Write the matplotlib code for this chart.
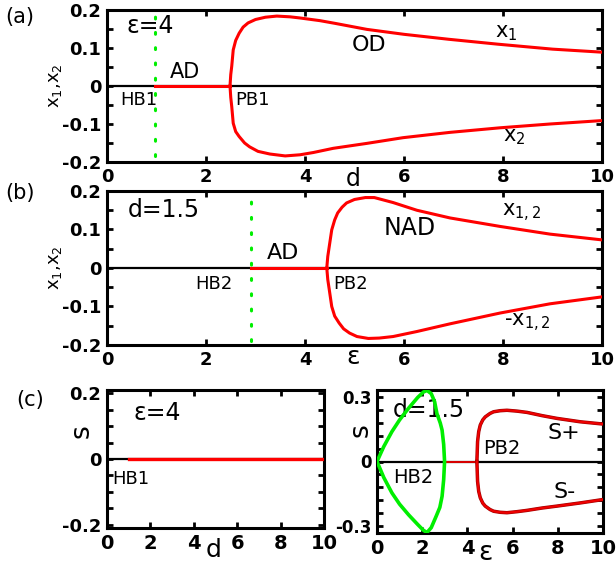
import matplotlib
matplotlib.use("Agg")
import matplotlib.pyplot as plt
from matplotlib.ticker import MultipleLocator, FixedLocator
import numpy as np

# ---------------- data ----------------
x_ticks = [0, 2, 4, 6, 8, 10]
x_ticklabels = ['0', '2', '4', '6', '8', '10']

# (a) eps = 4, bifurcation vs d
a_hb = 0.97
a_pb = 2.485
a_up_d = [2.485, 2.50, 2.52, 2.55, 2.60, 2.67, 2.75, 2.85, 3.00, 3.20, 3.43, 3.70, 3.90, 4.30, 4.60, 5.25, 6.00, 6.90, 7.90, 9.00, 10.0]
a_up_x = [0.0, 0.030, 0.052, 0.095, 0.120, 0.139, 0.155, 0.166, 0.175, 0.181, 0.184, 0.182, 0.179, 0.172, 0.165, 0.149, 0.136, 0.123, 0.110, 0.097, 0.089]
a_lo_d = [2.485, 2.50, 2.52, 2.55, 2.60, 2.67, 2.78, 2.88, 3.05, 3.29, 3.60, 3.90, 4.17, 4.57, 5.25, 5.98, 6.93, 7.94, 8.95, 10.0]
a_lo_x = [0.0, -0.030, -0.054, -0.098, -0.120, -0.133, -0.150, -0.160, -0.172, -0.179, -0.184, -0.181, -0.175, -0.164, -0.151, -0.136, -0.122, -0.110, -0.100, -0.091]
a_yticks = [-0.2, -0.1, 0, 0.1, 0.2]
a_yticklabels = ['-0.2', '-0.1', '0', '0.1', '0.2']

# (b) d = 1.5, bifurcation vs eps
b_hb = 2.9
b_pb = 4.44
b_up_e = [4.44, 4.46, 4.49, 4.54, 4.60, 4.66, 4.75, 4.84, 5.00, 5.22, 5.40, 5.78, 6.26, 6.93, 7.94, 8.95, 10.0]
b_up_x = [0.0, 0.030, 0.056, 0.099, 0.125, 0.143, 0.158, 0.169, 0.178, 0.183, 0.183, 0.170, 0.150, 0.130, 0.108, 0.088, 0.073]
b_lo_e = [4.44, 4.46, 4.49, 4.54, 4.60, 4.69, 4.78, 4.90, 5.05, 5.28, 5.50, 5.78, 6.26, 6.93, 7.94, 8.95, 10.0]
b_lo_x = [0.0, -0.030, -0.056, -0.100, -0.125, -0.143, -0.158, -0.169, -0.178, -0.183, -0.182, -0.178, -0.165, -0.145, -0.117, -0.093, -0.075]

# (c left) eps = 4, s vs d
c1_hb = 1.0
c1_yticks = [-0.2, 0, 0.2]
c1_yticklabels = ['-0.2', '0', '0.2']

# (c right) d = 1.5, s vs eps
hopf_loop_e = [0.0, 0.30, 0.66, 1.00, 1.40, 1.80, 2.05, 2.21, 2.40, 2.55, 2.65, 2.80, 2.88, 2.95, 2.99,
               2.95, 2.88, 2.78, 2.62, 2.40, 2.21, 2.05, 1.80, 1.40, 1.00, 0.66, 0.30, 0.0]
hopf_loop_s = [0.0, 0.070, 0.140, 0.195, 0.250, 0.300, 0.325, 0.333, 0.318, 0.280, 0.225, 0.180, 0.147, 0.080, 0.0,
               -0.085, -0.163, -0.215, -0.256, -0.310, -0.333, -0.322, -0.295, -0.250, -0.200, -0.147, -0.075, 0.0]
c2_hb = 2.99
c2_pb = 4.42
c2_up_e = [4.42, 4.45, 4.50, 4.57, 4.68, 4.79, 5.00, 5.16, 5.45, 5.75, 6.20, 6.64, 7.30, 7.96, 9.00, 9.95]
c2_up_s = [0.0, 0.093, 0.140, 0.171, 0.195, 0.209, 0.225, 0.233, 0.238, 0.240, 0.236, 0.230, 0.215, 0.202, 0.186, 0.176]
c2_lo_e = [4.42, 4.45, 4.50, 4.57, 4.68, 4.79, 5.00, 5.16, 5.45, 5.75, 6.20, 6.64, 7.30, 7.96, 9.00, 9.95]
c2_lo_s = [0.0, -0.093, -0.140, -0.170, -0.195, -0.209, -0.225, -0.233, -0.238, -0.240, -0.235, -0.229, -0.218, -0.209, -0.194, -0.179]
c2_yticks = [-0.3, 0, 0.3]
c2_yticklabels = ['-0.3', '0', '0.3']

# ---------------- style ----------------
plt.rcParams['font.family'] = ['DejaVu Sans']
W, H = 616, 565
fig = plt.figure(figsize=(W / 100, H / 100), dpi=100)

def rect(l, t, r, b):
    return [l / W, 1 - b / H, (r - l) / W, (b - t) / H]

RED = '#ff0000'
GREEN = '#00ee00'

def style(ax, ylim, yticks, yticklabels, ymin, xfs, yfs):
    ax.set_xlim(0, 10)
    ax.set_ylim(*ylim)
    for s in ax.spines.values():
        s.set_linewidth(2.2)
    ax.xaxis.set_major_locator(FixedLocator(x_ticks))
    ax.yaxis.set_major_locator(FixedLocator(yticks))
    ax.yaxis.set_minor_locator(MultipleLocator(ymin))
    ax.tick_params(which='both', direction='in', top=True, right=True,
                   length=4, width=2)
    ax.set_xticklabels(x_ticklabels, fontweight='bold', fontsize=xfs)
    ax.set_yticklabels(yticklabels, fontweight='bold', fontsize=yfs)
    ax.tick_params(axis='both', pad=4)

# ---------------- (a) ----------------
ax = fig.add_axes(rect(107, 10, 602, 162))
ax.plot([0, 10], [0, 0], color='black', lw=1.6, zorder=2)
ax.plot([a_hb, a_pb], [0, 0], color=RED, lw=2.2, zorder=3)
ax.plot(a_up_d, a_up_x, color=RED, lw=2.2, zorder=3)
ax.plot(a_lo_d, a_lo_x, color=RED, lw=2.2, zorder=3)
ax.plot([a_hb, a_hb], [-0.183, 0.183], color=GREEN, lw=2.2,
        linestyle=(0, (0.6, 4.4)), dash_capstyle='round', zorder=4)
style(ax, (-0.2, 0.2), a_yticks, a_yticklabels, 0.05, 13, 13)
ax.text(0.40, 0.158, 'ε=4', fontsize=17, ha='left', va='center')
ax.text(1.27, 0.036, 'AD', fontsize=15, ha='left', va='center')
ax.text(0.26, -0.037, 'HB1', fontsize=13, ha='left', va='center')
ax.text(2.59, -0.037, 'PB1', fontsize=13, ha='left', va='center')
ax.text(4.95, 0.108, 'OD', fontsize=16, ha='left', va='center')
ax.text(7.84, 0.140, 'x$_1$', fontsize=15, ha='left', va='center')
ax.text(8.00, -0.134, 'x$_2$', fontsize=15, ha='left', va='center')
ax.text(4.97, -0.245, 'd', fontsize=17, ha='center', va='center', clip_on=False)
ax.text(-1.05, 0.0, 'x$_1$,x$_2$', fontsize=13, rotation=90, ha='center', va='center', clip_on=False)
fig.text(20 / W, 1 - 17 / H, '(a)', fontsize=15, ha='center', va='center')

# ---------------- (b) ----------------
ax = fig.add_axes(rect(107, 191, 602, 345))
ax.plot([0, 10], [0, 0], color='black', lw=1.6, zorder=2)
ax.plot([b_hb, b_pb], [0, 0], color=RED, lw=2.2, zorder=3)
ax.plot(b_up_e, b_up_x, color=RED, lw=2.2, zorder=3)
ax.plot(b_lo_e, b_lo_x, color=RED, lw=2.2, zorder=3)
ax.plot([b_hb, b_hb], [-0.19, 0.19], color=GREEN, lw=2.2,
        linestyle=(0, (0.6, 4.4)), dash_capstyle='round', zorder=4)
style(ax, (-0.2, 0.2), a_yticks, a_yticklabels, 0.05, 13, 13)
ax.text(0.42, 0.151, 'd=1.5', fontsize=17, ha='left', va='center')
ax.text(3.23, 0.040, 'AD', fontsize=16, ha='left', va='center')
ax.text(1.78, -0.041, 'HB2', fontsize=13, ha='left', va='center')
ax.text(5.58, 0.105, 'NAD', fontsize=17, ha='left', va='center')
ax.text(4.57, -0.041, 'PB2', fontsize=13, ha='left', va='center')
ax.text(7.98, 0.142, 'x$_{1,2}$', fontsize=15, ha='left', va='center')
ax.text(8.02, -0.142, '-x$_{1,2}$', fontsize=15, ha='left', va='center')
ax.text(4.97, -0.232, 'ε', fontsize=18, ha='center', va='center', clip_on=False)
ax.text(-1.05, 0.0, 'x$_1$,x$_2$', fontsize=13, rotation=90, ha='center', va='center', clip_on=False)
fig.text(20 / W, 1 - 193 / H, '(b)', fontsize=15, ha='center', va='center')

# ---------------- (c left) ----------------
ax = fig.add_axes(rect(107, 390, 324, 528))
ax.plot([0, 10], [0, 0], color='black', lw=1.6, zorder=2)
ax.plot([c1_hb, 10], [0, 0], color=RED, lw=2.4, zorder=3)
style(ax, (-0.21, 0.21), c1_yticks, c1_yticklabels, 0.05, 14, 13)
ax.text(1.2, 0.140, 'ε=4', fontsize=17, ha='left', va='center')
ax.text(0.23, -0.060, 'HB1', fontsize=13, ha='left', va='center')
ax.text(4.9, -0.278, 'd', fontsize=18, ha='center', va='center', clip_on=False)
ax.text(-1.15, 0.084, 's', fontsize=19, rotation=90, ha='center', va='center', clip_on=False)
fig.text(30 / W, 1 - 400 / H, '(c)', fontsize=15, ha='center', va='center')

# ---------------- (c right) ----------------
ax = fig.add_axes(rect(377, 390, 603, 533))
ax.plot([0, 10], [0, 0], color='black', lw=1.6, zorder=2)
ax.plot([c2_hb, c2_pb], [0, 0], color='#dd0000', lw=1.4, zorder=3)
ax.plot(hopf_loop_e, hopf_loop_s, color=GREEN, lw=2.6, zorder=4)
ax.plot(c2_up_e, c2_up_s, color='#a00000', lw=2.5, zorder=3)
ax.plot(c2_up_e, c2_up_s, color='#ee0000', lw=1.6, zorder=3)
ax.plot(c2_lo_e, c2_lo_s, color='#a00000', lw=2.5, zorder=3)
ax.plot(c2_lo_e, c2_lo_s, color='#ee0000', lw=1.6, zorder=3)
style(ax, (-0.335, 0.335), c2_yticks, c2_yticklabels, 0.06, 14, 12)
ax.text(0.68, 0.240, 'd=1.5', fontsize=17, ha='left', va='center')
ax.text(0.72, -0.076, 'HB2', fontsize=14, ha='left', va='center')
ax.text(4.70, 0.059, 'PB2', fontsize=14, ha='left', va='center')
ax.text(7.54, 0.133, 'S+', fontsize=16, ha='left', va='center')
ax.text(7.80, -0.141, 'S-', fontsize=16, ha='left', va='center')
ax.text(4.8, -0.43, 'ε', fontsize=19, ha='center', va='center', clip_on=False)
ax.text(-0.74, 0.147, 's', fontsize=19, rotation=90, ha='center', va='center', clip_on=False)

fig.savefig('out.png', dpi=100)
